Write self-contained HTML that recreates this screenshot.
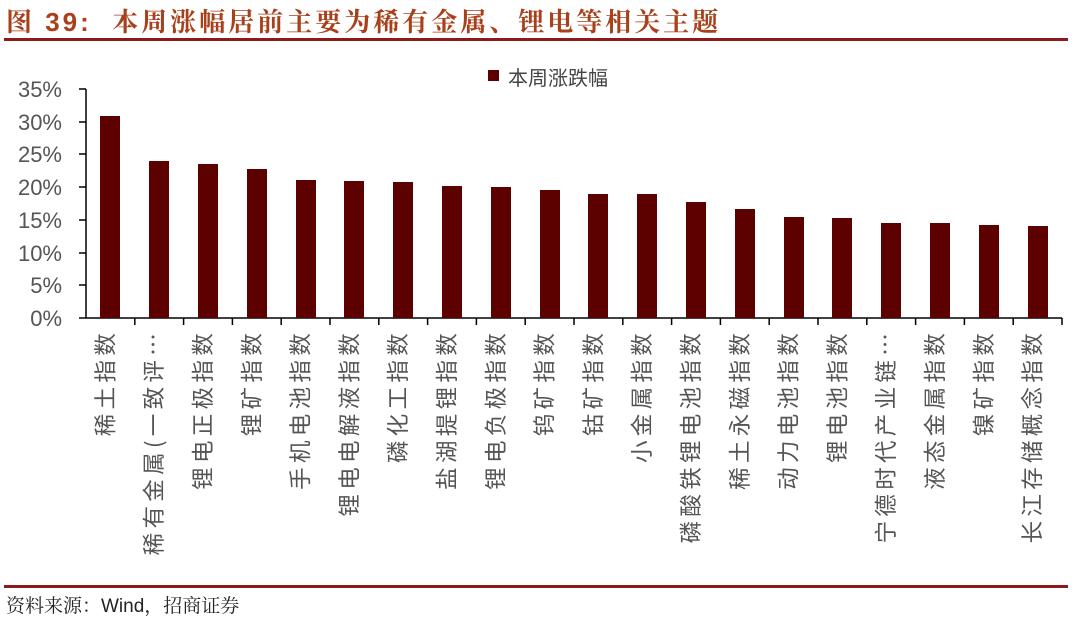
<!DOCTYPE html>
<html><head><meta charset="utf-8"><style>
body{margin:0;width:1080px;height:616px;background:#fff;position:relative;overflow:hidden;font-family:"Liberation Sans","Noto Sans CJK SC",sans-serif}
.t{position:absolute;left:6px;top:2px;font-size:26px;color:#a8411b;letter-spacing:3px;font-family:"Liberation Sans","Noto Serif CJK SC",serif;font-weight:bold}
.l1{position:absolute;left:4px;top:38px;width:1064px;height:3px;background:#8b1a1a}
.l2{position:absolute;left:4px;top:585px;width:1064px;height:3px;background:#8b1a1a}
.src{position:absolute;left:6px;top:591px;font-size:19px;color:#222;font-family:"Liberation Sans","Noto Serif CJK SC",serif}
.yl{position:absolute;width:60px;text-align:right;left:2px;font-size:22px;color:#555}
.bar{position:absolute;width:20px;background:#5c0000}
</style></head><body>
<div class="t">图 39:&nbsp; 本周涨幅居前主要为稀有金属、锂电等相关主题</div>
<div class="l1"></div>
<div style="position:absolute;left:488px;top:70px;width:11px;height:11px;background:#5c0000"></div>
<div style="position:absolute;left:508px;top:62px;font-size:20px;color:#444;font-family:'Noto Sans CJK SC',sans-serif">本周涨跌幅</div>
<svg style="position:absolute;left:0;top:0" width="1080" height="616">
<g stroke="#000" stroke-width="1.5">
<line x1="86" y1="89" x2="86" y2="318"/>
<line x1="86" y1="318" x2="1062" y2="318"/>
<line x1="79" y1="89" x2="86" y2="89"/><line x1="79" y1="122" x2="86" y2="122"/><line x1="79" y1="154" x2="86" y2="154"/><line x1="79" y1="187" x2="86" y2="187"/><line x1="79" y1="220" x2="86" y2="220"/><line x1="79" y1="253" x2="86" y2="253"/><line x1="79" y1="285" x2="86" y2="285"/><line x1="79" y1="318" x2="86" y2="318"/>
</g>
<g id="xt" stroke="#000" stroke-width="1.5"></g>
<g id="xl" font-family="Noto Sans CJK SC, sans-serif" font-size="22.5" fill="#555" letter-spacing="4.3" text-anchor="end"></g>
</svg>
<div class="yl" style="top:77px">35%</div>
<div class="yl" style="top:110px">30%</div>
<div class="yl" style="top:142px">25%</div>
<div class="yl" style="top:175px">20%</div>
<div class="yl" style="top:208px">15%</div>
<div class="yl" style="top:241px">10%</div>
<div class="yl" style="top:273px">5%</div>
<div class="yl" style="top:306px">0%</div>
<div id="c"></div>
<div class="l2"></div>
<div class="src">资料来源：Wind，招商证券</div>
<script>
var v=[30.9,24.0,23.6,22.8,21.1,20.9,20.8,20.2,20.0,19.6,19.0,18.9,17.8,16.7,15.5,15.3,14.6,14.6,14.2,14.0];
var n=["稀土指数","稀有金属(一致评…","锂电正极指数","锂矿指数","手机电池指数","锂电电解液指数","磷化工指数","盐湖提锂指数","锂电负极指数","钨矿指数","钴矿指数","小金属指数","磷酸铁锂电池指数","稀土永磁指数","动力电池指数","锂电池指数","宁德时代产业链…","液态金属指数","镍矿指数","长江存储概念指数"];
var w=48.8,h="",t="",l="";
for(var i=0;i<20;i++){var cx=86+w*(i+0.5);var bh=v[i]*6.54;
h+='<div class="bar" style="left:'+(cx-10)+'px;top:'+(318-bh)+'px;height:'+bh+'px"></div>';
var bx=cx+3;l+='<text transform="translate('+bx+',329) rotate(-90)">'+n[i]+'</text>';
var x=86+w*(i+1);t+='<line x1="'+x+'" y1="318" x2="'+x+'" y2="325"/>';}
document.getElementById("c").innerHTML=h;document.getElementById("xt").innerHTML=t;
document.getElementById("xl").innerHTML=l;
</script>
</body></html>
